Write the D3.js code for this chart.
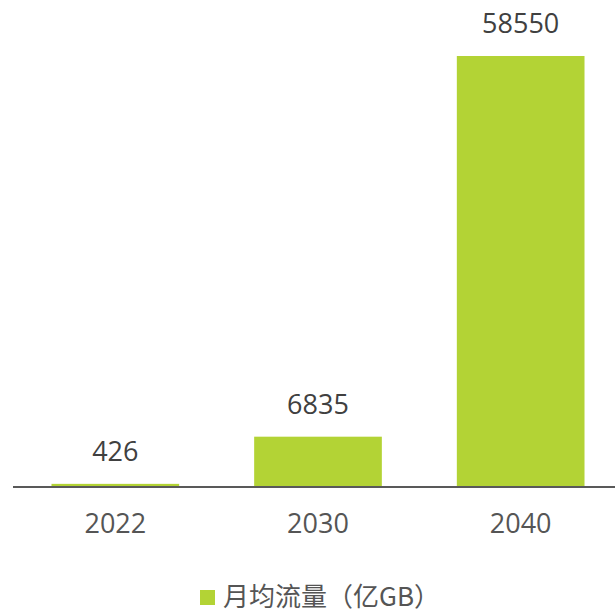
<!DOCTYPE html>
<html>
<head>
<meta charset="utf-8">
<script src="https://cdn.jsdelivr.net/npm/d3@7"></script>
<style>
  body { margin: 0; background: #fff; }
  text { font-family: "Open Sans", "Noto Sans CJK SC", sans-serif; fill: #404040; }
</style>
</head>
<body>
<div id="chart"></div>
<script>
const years = ["2022", "2030", "2040"];
const traffic = [426, 6835, 58550];
const seriesName = "月均流量（亿GB）";

const width = 615;
const height = 611;
const baseline = 487;
const barColor = "#b3d335";

const svg = d3.select("#chart")
    .append("svg")
    .attr("width", width)
    .attr("height", height);

// band scale runs a bit past the right edge, like the original
const x = d3.scaleBand()
    .domain(years)
    .range([14, 622])
    .paddingInner(0.37)
    .paddingOuter(0.185);

const y = d3.scaleLinear()
    .domain([0, 58550])
    .range([baseline, 56]);

svg.selectAll(".bar")
    .data(traffic)
    .enter()
    .append("rect")
    .attr("class", "bar")
    .attr("x", (d, i) => x(years[i]))
    .attr("y", d => y(d))
    .attr("width", x.bandwidth())
    .attr("height", d => baseline - y(d))
    .attr("fill", barColor);

svg.selectAll(".val")
    .data(traffic)
    .enter()
    .append("text")
    .attr("class", "val")
    .attr("x", (d, i) => x(years[i]) + x.bandwidth() / 2)
    .attr("y", d => y(d) - 23)
    .attr("text-anchor", "middle")
    .style("font-size", "27px")
    .text(d => d);

// x axis line + labels
svg.append("line")
    .attr("x1", 13)
    .attr("x2", width)
    .attr("y1", baseline)
    .attr("y2", baseline)
    .attr("stroke", "#595959")
    .attr("stroke-width", 2);

svg.selectAll(".tick-label")
    .data(years)
    .enter()
    .append("text")
    .attr("class", "tick-label")
    .attr("x", d => x(d) + x.bandwidth() / 2)
    .attr("y", 533)
    .attr("text-anchor", "middle")
    .style("font-size", "27px")
    .style("fill", "#555")
    .text(d => d);

// legend
const legend = svg.append("g").attr("transform", "translate(200,590)");
legend.append("rect")
    .attr("width", 15)
    .attr("height", 15)
    .attr("fill", barColor);
legend.append("text")
    .attr("x", 23)
    .attr("y", 15.5)
    .style("font-size", "26px")
    .style("fill", "#555")
    .style("font-family", "'Noto Sans CJK SC', sans-serif")
    .text(seriesName);
</script>
</body>
</html>
